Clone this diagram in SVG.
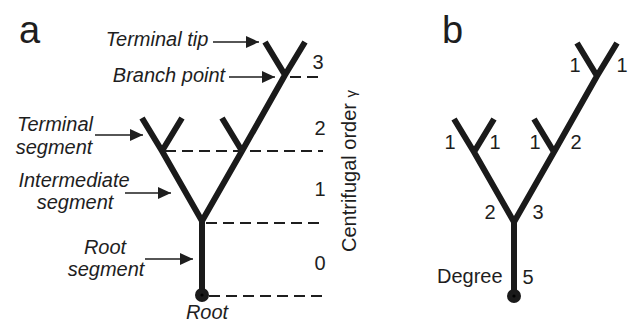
<svg xmlns="http://www.w3.org/2000/svg" width="629" height="324" viewBox="0 0 629 324">
  <style>
    .txt { font-family: "Liberation Sans", Arial, sans-serif; fill: #1e1e1e; }
    .lbl { font-size: 20px; font-style: italic; text-anchor: middle; }
    .num { font-size: 20px; text-anchor: middle; }
    .panel { font-size: 38px; }
    .branch { stroke: #1a1a1a; stroke-width: 6; fill: none; stroke-linecap: butt; }
    .level { stroke: #1e1e1e; stroke-width: 2; stroke-dasharray: 11 6; fill: none; }
    .pointer { stroke: #1e1e1e; stroke-width: 1.6; fill: none; marker-end: url(#head); }
  </style>
  <defs>
    <marker id="head" markerUnits="userSpaceOnUse" markerWidth="14" markerHeight="12" refX="13" refY="6" orient="auto">
      <path d="M0,0 L13,6 L0,12 z" fill="#1e1e1e"/>
    </marker>
    <!-- branching tree shared by both panels -->
    <g id="tree">
      <path class="branch" d="M0,74 V0 L-40,-70 M0,0 L40,-70 L83,-146 M-40,-70 L-60,-103 M-40,-70 L-20,-103 M40,-70 L20,-103 M83,-146 L63,-179 M83,-146 L103,-179"/>
      <circle cx="0" cy="74" r="7" fill="#1a1a1a"/>
      <circle cx="0" cy="74" r="1.6" fill="#000"/>
    </g>
  </defs>

  <!-- panel a -->
  <g id="panel-a">
    <text class="txt panel" x="19" y="43">a</text>
    <use href="#tree" x="202" y="221"/>

    <g id="levels">
      <path class="level" d="M290,77 H320"/>
      <path class="level" d="M165,151 H323"/>
      <path class="level" d="M206,223 H323"/>
      <path class="level" d="M209,296 H323"/>
    </g>

    <g id="order-numbers">
      <text class="txt num" x="318" y="69">3</text>
      <text class="txt num" x="320" y="135">2</text>
      <text class="txt num" x="320" y="196">1</text>
      <text class="txt num" x="320" y="270">0</text>
    </g>
    <text class="txt" transform="translate(356,252) rotate(-90)" font-size="20">Centrifugal order <tspan font-size="15">γ</tspan></text>

    <g id="label-terminal-tip">
      <text class="txt lbl" x="157" y="46">Terminal tip</text>
    </g>
    <g id="label-branch-point">
      <text class="txt lbl" x="169" y="82">Branch point</text>
    </g>
    <g id="label-terminal-segment">
      <text class="txt lbl" x="55" y="131">Terminal</text>
      <text class="txt lbl" x="54" y="154">segment</text>
    </g>
    <g id="label-intermediate-segment">
      <text class="txt lbl" x="74" y="187">Intermediate</text>
      <text class="txt lbl" x="75" y="209">segment</text>
    </g>
    <g id="label-root-segment">
      <text class="txt lbl" x="105" y="254">Root</text>
      <text class="txt lbl" x="106" y="276">segment</text>
    </g>
    <g id="label-root">
      <text class="txt lbl" x="207" y="319">Root</text>
    </g>

    <g id="connectors">
      <path class="pointer" d="M213,42 H259"/>
      <path class="pointer" d="M229,77 H275"/>
      <path class="pointer" d="M95,135 H143"/>
      <path class="pointer" d="M125,193 H171"/>
      <path class="pointer" d="M145,259 H193"/>
    </g>
  </g>

  <!-- panel b -->
  <g id="panel-b">
    <text class="txt panel" x="442" y="43">b</text>
    <use href="#tree" x="514" y="222"/>
    <g id="degrees">
      <text class="txt num" x="575" y="72">1</text>
      <text class="txt num" x="622" y="72">1</text>
      <text class="txt num" x="450" y="149">1</text>
      <text class="txt num" x="495" y="149">1</text>
      <text class="txt num" x="535" y="149">1</text>
      <text class="txt num" x="576" y="149">2</text>
      <text class="txt num" x="490" y="219">2</text>
      <text class="txt num" x="538" y="219">3</text>
      <text class="txt num" x="528" y="284">5</text>
      <text class="txt" x="437" y="283" font-size="20">Degree</text>
    </g>
  </g>
</svg>
